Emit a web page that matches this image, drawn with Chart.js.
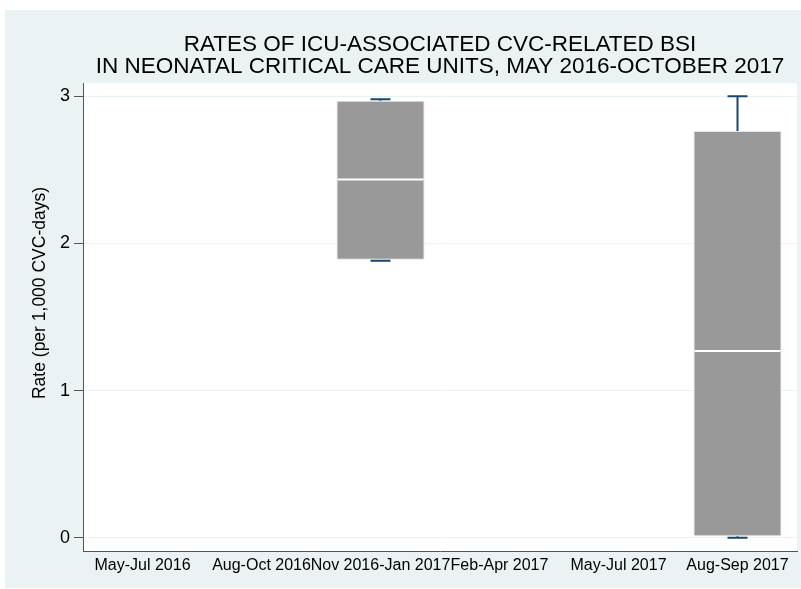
<!DOCTYPE html>
<html>
<head>
<meta charset="utf-8">
<script src="https://cdn.jsdelivr.net/npm/chart.js@4.4.1/dist/chart.umd.min.js"></script>
<style>
    html, body { margin: 0; padding: 0; background: #ffffff; }
    canvas { display: block; }
</style>
</head>
<body>
<canvas id="boxChart" width="801" height="589"></canvas>
<script>
const ctx = document.getElementById("boxChart").getContext("2d");

// periods on the x axis
const categories = ["May-Jul 2016", "Aug-Oct 2016", "Nov 2016-Jan 2017", "Feb-Apr 2017", "May-Jul 2017", "Aug-Sep 2017"];

// box plot pieces, null = no data for that period
const q1Values = [null, null, 1.89, null, null, 0.01];
const q3Values = [null, null, 2.97, null, null, 2.765];
const medianValues = [null, null, 2.435, null, null, 1.27];
const lowValues = [null, null, 1.883, null, null, 0];
const highValues = [null, null, 2.98, null, null, 3.0];

const yTicks = [0, 1, 2, 3];

const titleLines = ["RATES OF ICU-ASSOCIATED CVC-RELATED BSI", "IN NEONATAL CRITICAL CARE UNITS, MAY 2016-OCTOBER 2017"];
const yTitle = "Rate (per 1,000 CVC-days)";

const FONT = "'Liberation Sans', Arial, Helvetica, sans-serif";
const WHISKER = "#1a476f";

// stata style backdrop: light outer region + white plot region
const sfondo = {
    id: "sfondo",
    beforeDraw(chart) {
        const c = chart.ctx;
        const a = chart.chartArea;
        c.save();
        c.fillStyle = "#ffffff";
        c.fillRect(0, 0, chart.width, chart.height);
        c.fillStyle = "#eaf2f3";
        c.fillRect(5, 10, chart.width - 5, chart.height - 11);
        c.fillStyle = "#ffffff";
        c.fillRect(a.left, a.top, a.right - a.left, a.bottom - a.top);
        c.restore();
    }
};

// whiskers, caps and median line on top of the boxes
const baffi = {
    id: "baffi",
    afterDatasetsDraw(chart) {
        const c = chart.ctx;
        const x = chart.scales.x;
        const y = chart.scales.y;
        const meta = chart.getDatasetMeta(0);
        c.save();
        categories.forEach((cat, i) => {
            if (q1Values[i] === null) return;
            const cx = x.getPixelForValue(i);
            const bar = meta.data[i];
            const half = bar.width / 2;

            c.strokeStyle = WHISKER;
            c.lineWidth = 2;
            c.beginPath();
            c.moveTo(cx, y.getPixelForValue(q3Values[i]));
            c.lineTo(cx, y.getPixelForValue(highValues[i]));
            c.moveTo(cx, y.getPixelForValue(q1Values[i]));
            c.lineTo(cx, y.getPixelForValue(lowValues[i]));
            c.moveTo(cx - 10, y.getPixelForValue(highValues[i]));
            c.lineTo(cx + 10, y.getPixelForValue(highValues[i]));
            c.moveTo(cx - 10, y.getPixelForValue(lowValues[i]));
            c.lineTo(cx + 10, y.getPixelForValue(lowValues[i]));
            c.stroke();

            c.strokeStyle = "#ffffff";
            c.lineWidth = 2;
            c.beginPath();
            c.moveTo(cx - half + 1, y.getPixelForValue(medianValues[i]));
            c.lineTo(cx + half - 1, y.getPixelForValue(medianValues[i]));
            c.stroke();
        });
        c.restore();
    }
};

// y title sits a bit above the middle of the axis, like stata does it
const titoloY = {
    id: "titoloY",
    afterDraw(chart) {
        const c = chart.ctx;
        c.save();
        c.translate(40, 293);
        c.rotate(-Math.PI / 2);
        c.font = "17.5px " + FONT;
        c.fillStyle = "#000000";
        c.textAlign = "center";
        c.textBaseline = "middle";
        c.fillText(yTitle, 0, 0);
        c.restore();
    }
};

const chart = new Chart(ctx,
    {
        type: "bar",
        data:
        {
            labels: categories,
            datasets:
                [
                    {
                        label: "Rate",
                        data: q1Values.map((v, i) => v === null ? null : [v, q3Values[i]]),
                        backgroundColor: "#999999",
                        borderColor: "#e4e4e4",
                        borderWidth: 1,
                        borderSkipped: false,
                        barPercentage: 0.74,
                        categoryPercentage: 1
                    }
                ]
        },
        options:
        {
            responsive: false,
            animation: false,
            layout:
            {
                padding: { top: 0, right: 4, bottom: 0, left: 0 }
            },
            plugins:
            {
                legend: { display: false },
                tooltip: { enabled: false },
                title:
                {
                    display: true,
                    fullSize: false,
                    text: titleLines,
                    color: "#000000",
                    font: { family: FONT, size: 22.5, weight: "normal", lineHeight: 0.98 },
                    padding: { top: 33.5, bottom: 5.5 }
                }
            },
            scales:
            {
                x:
                {
                    offset: true,
                    grid: { display: false, drawTicks: false },
                    border: { display: true, color: "#555555", width: 1 },
                    ticks:
                    {
                        color: "#000000",
                        font: { family: FONT, size: 16 },
                        autoSkip: false,
                        maxRotation: 0,
                        minRotation: 0,
                        padding: 5
                    },
                    afterFit(scale) {
                        scale.height = 38;
                    }
                },
                y:
                {
                    min: -0.09,
                    max: 3.09,
                    grid:
                    {
                        color: "#eaf2f3",
                        lineWidth: 1,
                        tickColor: "#555555",
                        tickLength: 9
                    },
                    border: { display: true, color: "#555555", width: 1 },
                    ticks:
                    {
                        color: "#000000",
                        font: { family: FONT, size: 18 },
                        padding: 4
                    },
                    afterBuildTicks(scale) {
                        scale.ticks = yTicks.map(v => ({ value: v }));
                    },
                    afterFit(scale) {
                        scale.width = 83;
                    }
                }
            }
        },
        plugins: [sfondo, baffi, titoloY]
    });
</script>
</body>
</html>
